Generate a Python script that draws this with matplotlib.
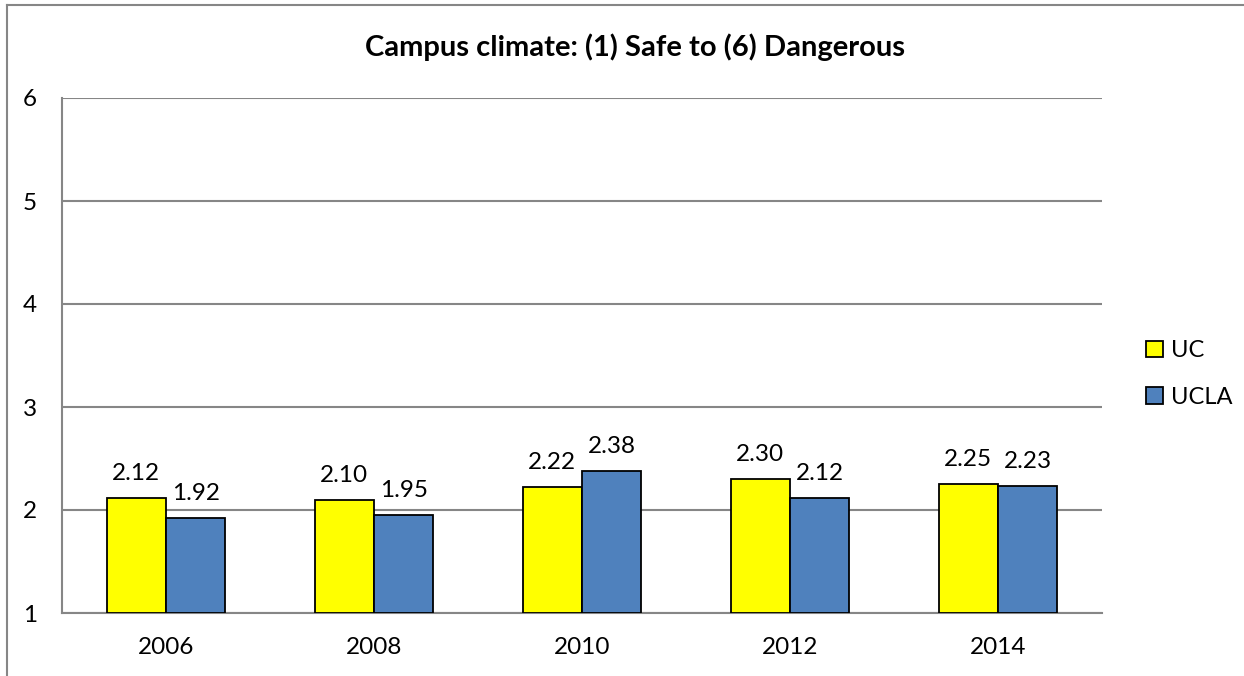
import numpy as np
import matplotlib
matplotlib.use("Agg")
import matplotlib.pyplot as plt
from matplotlib.lines import Line2D

plt.rcParams['font.family'] = ['Lato', 'DejaVu Sans']

years = ['2006', '2008', '2010', '2012', '2014']
uc = [2.12, 2.10, 2.22, 2.30, 2.25]
ucla = [1.92, 1.95, 2.38, 2.12, 2.23]

x = np.arange(len(years))
width = 0.286
grey = '#868686'

fig = plt.figure(figsize=(12.44, 6.76), dpi=100)
ax = fig.add_axes([62/1244, 63/676, 1040/1244, 515/676])

# chart border (left and top)
fig.add_artist(Line2D([7/1244, 7/1244], [0, 671/676], color=grey, lw=1.5))
fig.add_artist(Line2D([7/1244, 1], [671/676, 671/676], color=grey, lw=1.5))

b1 = ax.bar(x - width/2, np.array(uc) - 1, width, bottom=1, color='#FFFF00',
            edgecolor='black', linewidth=1.3, label='UC', zorder=3)
b2 = ax.bar(x + width/2, np.array(ucla) - 1, width, bottom=1, color='#4F81BD',
            edgecolor='black', linewidth=1.3, label='UCLA', zorder=3)

for bars, vals in ((b1, uc), (b2, ucla)):
    for rect, v in zip(bars, vals):
        ax.annotate('%.2f' % v, xy=(rect.get_x() + rect.get_width()/2, v),
                    xytext=(0, 10), textcoords='offset points',
                    ha='center', va='bottom', fontsize=17.5)

ax.set_xlim(-0.5, len(years) - 0.5)
ax.set_ylim(1, 6)
ax.set_yticks([1, 2, 3, 4, 5, 6])
ax.set_xticks(x)
ax.set_xticklabels(years)
ax.tick_params(axis='both', length=0, labelsize=17.5)
ax.tick_params(axis='y', pad=18)
ax.tick_params(axis='x', pad=17)
ax.yaxis.grid(True, color=grey, lw=1.5, zorder=0)
ax.set_axisbelow(True)
for s in ['top', 'right']:
    ax.spines[s].set_visible(False)
for s in ['left', 'bottom']:
    ax.spines[s].set_color(grey)
    ax.spines[s].set_linewidth(1.5)

fig.text(635/1244, 1 - 47/676, 'Campus climate: (1) Safe to (6) Dangerous',
         fontsize=21, fontweight='bold', ha='center', va='center')

ax.legend(loc='center left', bbox_to_anchor=(1.022, 0.464), frameon=False,
          fontsize=17, handlelength=0.7, handleheight=0.7,
          handletextpad=0.35, labelspacing=1.1)

fig.savefig('out.png', dpi=100)
